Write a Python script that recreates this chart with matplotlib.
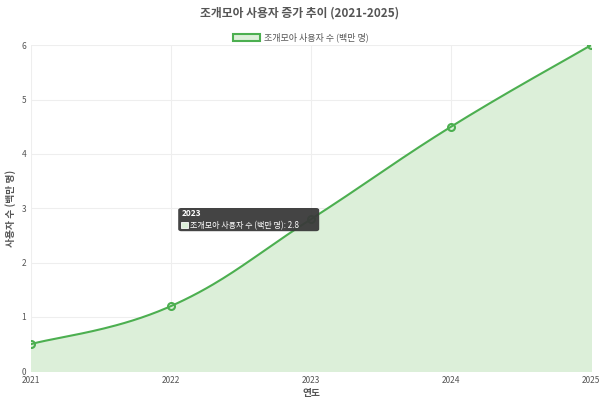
import numpy as np
import matplotlib
matplotlib.use("Agg")
import matplotlib.pyplot as plt
from matplotlib.patches import Rectangle, FancyBboxPatch

plt.rcParams['font.family'] = ['Noto Sans CJK KR', 'DejaVu Sans']

years = [2021, 2022, 2023, 2024, 2025]
users = [0.5, 1.2, 2.8, 4.5, 6.0]
label = '조개모아 사용자 수 (백만 명)'
line_color = '#4caf50'
fill_color = '#dcefd9'


def smooth(xs, ys, tension=0.4, n=40):
    # cubic bezier through points, chart.js style control points
    xs = np.array(xs, float); ys = np.array(ys, float)
    outx, outy = [], []
    for i in range(len(xs) - 1):
        p0 = np.array([xs[max(i - 1, 0)], ys[max(i - 1, 0)]])
        p1 = np.array([xs[i], ys[i]])
        p2 = np.array([xs[i + 1], ys[i + 1]])
        p3 = np.array([xs[min(i + 2, len(xs) - 1)], ys[min(i + 2, len(xs) - 1)]])
        c1 = p1 + (p2 - p0) * tension / 2
        c2 = p2 - (p3 - p1) * tension / 2
        t = np.linspace(0, 1, n)[:, None]
        pts = (1 - t) ** 3 * p1 + 3 * (1 - t) ** 2 * t * c1 + 3 * (1 - t) * t ** 2 * c2 + t ** 3 * p2
        outx.extend(pts[:, 0]); outy.extend(pts[:, 1])
    return np.array(outx), np.array(outy)


fig = plt.figure(figsize=(6, 4), dpi=100)
ax = fig.add_axes([0.052, 0.072, 0.933, 0.815])

sx, sy = smooth(years, users)
ax.fill_between(sx, sy, 0, color=fill_color, zorder=1)
ax.plot(sx, sy, color=line_color, lw=1.5, zorder=2)
ax.plot(years, users, 'o', ms=5, mfc='none', mec=line_color, mew=1.5, zorder=3)

ax.set_xlim(2021, 2025)
ax.set_ylim(0, 6)
ax.set_xticks(years)
ax.set_yticks(range(7))
ax.grid(color='#eeeeee', lw=0.8)
ax.set_axisbelow(True)
for s in ax.spines.values():
    s.set_visible(False)
ax.tick_params(length=0, labelsize=6, colors='#555555')
ax.set_xlabel('연도', fontsize=7, fontweight='bold', color='#555555', labelpad=2)
ax.set_ylabel('사용자 수 (백만 명)', fontsize=7, fontweight='bold', color='#555555', labelpad=4)

fig.text(0.5, 0.968, '조개모아 사용자 증가 추이 (2021-2025)', ha='center', va='center',
         fontsize=8.5, fontweight='bold', color='#555555')
# legend
fig.patches.append(Rectangle((0.388, 0.897), 0.045, 0.018, transform=fig.transFigure,
                             fc=fill_color, ec=line_color, lw=1.5))
fig.text(0.440, 0.906, label, ha='left', va='center', fontsize=6.5, color='#555555')

# tooltip at 2023
fig.patches.append(FancyBboxPatch((0.297, 0.422), 0.235, 0.058, transform=fig.transFigure,
                                  boxstyle='round,pad=0,rounding_size=0.005',
                                  fc='#3a3a3a', ec='none', alpha=0.95))
fig.text(0.302, 0.466, str(years[2]), fontsize=6, fontweight='bold', color='white', va='center')
fig.patches.append(Rectangle((0.302, 0.429), 0.011, 0.016, transform=fig.transFigure,
                             fc=fill_color, ec='white', lw=0.6))
fig.text(0.317, 0.437, f'{label}: {users[2]}', fontsize=5.8, color='white', va='center')

fig.savefig('out.png', dpi=100, facecolor='white')
